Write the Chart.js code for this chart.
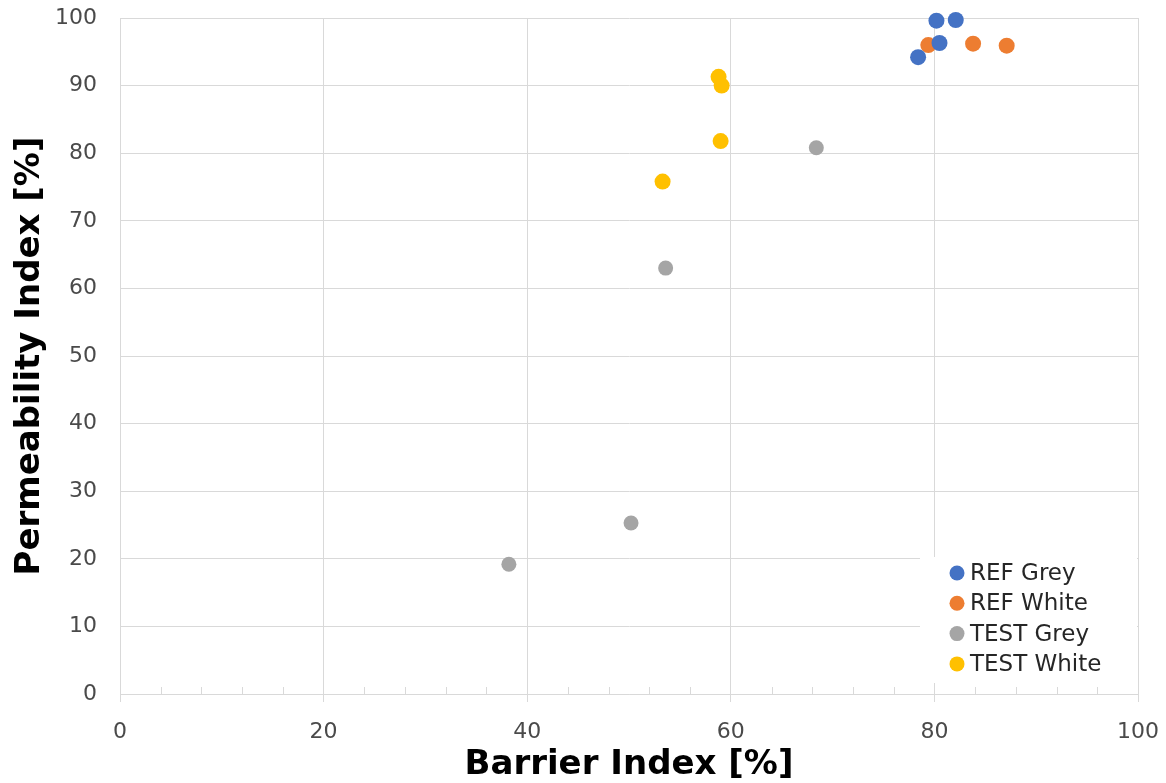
<!DOCTYPE html>
<html>
<head>
<meta charset="utf-8">
<script src="https://cdn.jsdelivr.net/npm/chart.js@4.4.0/dist/chart.umd.min.js"></script>
<style>
  html, body { margin: 0; padding: 0; background: #fff; }
  #wrap { width: 1166px; height: 783px; }
</style>
</head>
<body>
<div id="wrap"><canvas id="scatter-chart"></canvas></div>
<script>
// series names
const seriesNames = ['REF Grey', 'REF White', 'TEST Grey', 'TEST White'];
const seriesColors = ['#4472C4', '#ED7D31', '#A5A5A5', '#FFC000'];

// barrier index (x) / permeability index (y)
const refGreyX = [78.4, 80.2, 80.5, 82.1];
const refGreyY = [94.2, 99.6, 96.3, 99.7];
const refWhiteX = [79.4, 83.8, 87.1];
const refWhiteY = [96.0, 96.2, 95.9];
const testGreyX = [38.2, 50.2, 53.6, 68.4];
const testGreyY = [19.2, 25.3, 63.0, 80.8];
const testWhiteX = [53.3, 58.8, 59.1, 59.0];
const testWhiteY = [75.8, 91.3, 90.0, 81.8];

const xTicks = [0, 20, 40, 60, 80, 100];
const yTicks = [0, 10, 20, 30, 40, 50, 60, 70, 80, 90, 100];

const xTitle = 'Barrier Index [%]';
const yTitle = 'Permeability Index [%]';

function toPoints(xs, ys) {
    return xs.map((x, i) => ({ x: x, y: ys[i] }));
}

const allX = [refGreyX, refWhiteX, testGreyX, testWhiteX];
const allY = [refGreyY, refWhiteY, testGreyY, testWhiteY];

const datasets = seriesNames.map((name, i) => ({
    label: name,
    data: toPoints(allX[i], allY[i]),
    backgroundColor: seriesColors[i],
    borderColor: seriesColors[i],
    pointRadius: i == 2 ? 7.5 : 8,
    pointBorderWidth: 0,
    clip: false
}));

const gridColor = '#D9D9D9';
const font = "'DejaVu Sans', Verdana, sans-serif";

// minor tick marks on the x axis, every 4 units, pointing up
const minorTicks = {
    id: 'minorTicks',
    beforeDatasetsDraw(chart) {
        const c = chart.ctx;
        const xs = chart.scales.x;
        const bottom = chart.chartArea.bottom;
        c.save();
        c.strokeStyle = gridColor;
        c.lineWidth = 1;
        for (let v = 4; v < 100; v += 4) {
            if (v % 20 == 0) continue;
            const px = Math.round(xs.getPixelForValue(v)) + 0.5;
            c.beginPath();
            c.moveTo(px, bottom);
            c.lineTo(px, bottom - 7);
            c.stroke();
        }
        c.restore();
    }
};

// legend box inside the plot, bottom right
const innerLegend = {
    id: 'innerLegend',
    afterDatasetsDraw(chart) {
        const c = chart.ctx;
        const area = chart.chartArea;
        const left = area.right - 218;
        const top = area.bottom - 137;
        c.save();
        c.fillStyle = '#fff';
        c.fillRect(left, top, 217, 126);
        c.font = '23px ' + font;
        c.textBaseline = 'middle';
        seriesNames.forEach((name, i) => {
            const cy = top + 16 + i * 30.3;
            c.fillStyle = seriesColors[i];
            c.beginPath();
            c.arc(left + 37, cy, 7.5, 0, Math.PI * 2);
            c.fill();
            c.fillStyle = '#262626';
            c.fillText(name, left + 50, cy + 1);
        });
        c.restore();
    }
};

const config = {
    type: 'scatter',
    data: { datasets: datasets },
    options: {
        responsive: true,
        maintainAspectRatio: false,
        animation: false,
        layout: { padding: { top: 18, right: 28, left: 0, bottom: 0 } },
        plugins: {
            legend: { display: false },
            tooltip: { enabled: false }
        },
        scales: {
            x: {
                type: 'linear',
                min: 0,
                max: 100,
                afterBuildTicks: (scale) => { scale.ticks = xTicks.map(v => ({ value: v })); },
                afterFit: (scale) => {
                    scale.height = 89;
                    scale.paddingLeft = 0;
                    scale.paddingRight = 0;
                },
                grid: {
                    color: gridColor,
                    tickColor: gridColor,
                    tickLength: 8
                },
                border: { color: gridColor },
                ticks: {
                    color: '#4a4a4a',
                    padding: 17,
                    maxRotation: 0,
                    font: { family: font, size: 22 }
                },
                title: {
                    display: true,
                    text: xTitle,
                    color: '#000',
                    padding: { top: 0, bottom: -3 },
                    font: { family: font, size: 34, weight: 'bold' }
                }
            },
            y: {
                type: 'linear',
                min: 0,
                max: 100,
                afterBuildTicks: (scale) => { scale.ticks = yTicks.map(v => ({ value: v })); },
                afterFit: (scale) => {
                    scale.width = 120;
                    scale.paddingTop = 0;
                    scale.paddingBottom = 0;
                },
                grid: {
                    color: gridColor,
                    drawTicks: false
                },
                border: { color: gridColor },
                ticks: {
                    color: '#4a4a4a',
                    padding: 23,
                    font: { family: font, size: 22 }
                },
                title: {
                    display: true,
                    text: yTitle,
                    color: '#000',
                    padding: { top: 10, bottom: 0 },
                    font: { family: font, size: 34, weight: 'bold' }
                }
            }
        }
    },
    plugins: [minorTicks, innerLegend]
};

const chart = new Chart(document.getElementById('scatter-chart'), config);
</script>
</body>
</html>
